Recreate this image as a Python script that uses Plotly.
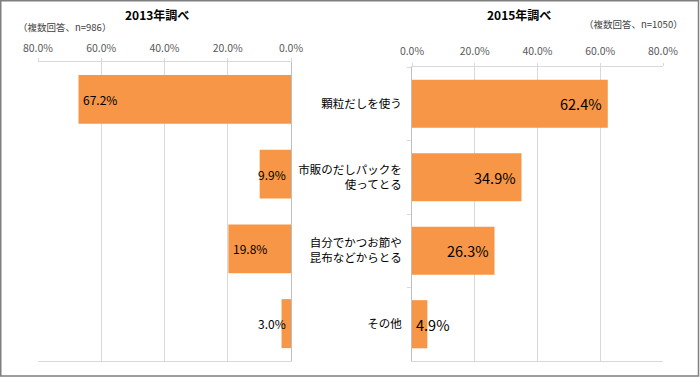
import plotly.graph_objects as go

categories = ["顆粒だしを使う", "市販のだしパックを<br>使ってとる", "自分でかつお節や<br>昆布などからとる", "その他"]
values_2013 = [67.2, 9.9, 19.8, 3.0]
values_2015 = [62.4, 34.9, 26.3, 4.9]
tick_vals = [0, 20, 40, 60, 80]
tick_text = ["0.0%", "20.0%", "40.0%", "60.0%", "80.0%"]
title_2013 = "2013年調べ"
title_2015 = "2015年調べ"
note_2013 = "（複数回答、n=986）"
note_2015 = "（複数回答、n=1050）"

W, H = 700, 377
FONT = "Noto Sans CJK JP"
BAR = "#F79646"
GRID = "#D9D9D9"
AXIS = "#BFBFBF"
TXT = "#595959"

def px(x):
    return x / W

def py(y):
    return 1 - y / H

fig = go.Figure()
fig.add_trace(go.Bar(y=categories, x=values_2013, orientation="h", marker_color=BAR,
                     marker_line_width=0, xaxis="x", yaxis="y", hoverinfo="x+y"))
fig.add_trace(go.Bar(y=categories, x=values_2015, orientation="h", marker_color=BAR,
                     marker_line_width=0, xaxis="x2", yaxis="y2", hoverinfo="x+y"))

common_x = dict(tickvals=tick_vals, ticktext=tick_text, side="top", showgrid=True,
                gridcolor=GRID, gridwidth=1, showline=True, linecolor=GRID, mirror=True,
                ticks="outside", ticklen=3, tickcolor=GRID, zeroline=False, automargin=False,
                tickfont=dict(family=FONT, size=10.5, color=TXT), fixedrange=True)

fig.update_layout(
    width=W, height=H, margin=dict(l=0, r=0, t=0, b=0, pad=0, autoexpand=False),
    autosize=False,
    paper_bgcolor="white", plot_bgcolor="white", showlegend=False,
    bargap=0.345, font=dict(family=FONT, color="#000000"),
    xaxis=dict(domain=[px(38), px(291)], range=[80, 0], anchor="y", ticklabelstandoff=2, **common_x),
    yaxis=dict(domain=[py(361), py(62)], type="category", autorange="reversed", anchor="x",
               side="right", showticklabels=False, showline=True, linecolor=AXIS,
               showgrid=False, ticks="", zeroline=False, fixedrange=True, automargin=False),
    xaxis2=dict(domain=[px(412), px(663)], range=[0, 80], anchor="y2", ticklabelstandoff=4, **common_x),
    yaxis2=dict(domain=[py(361), py(67)], type="category", autorange="reversed", anchor="x2",
                side="left", showline=True, linecolor=AXIS, showgrid=False,
                ticks="outside", tickson="boundaries", ticklen=4, tickcolor=GRID,
                ticklabelstandoff=7,
                tickfont=dict(family=FONT, size=11.5, color="#000000"), zeroline=False,
                fixedrange=True, automargin=False),
)

ann = []
ann.append(dict(text="<b>" + title_2013 + "</b>", x=px(157), y=py(14), xref="paper", yref="paper",
                xanchor="center", yanchor="middle",
                showarrow=False, font=dict(size=12, color="#000000")))
ann.append(dict(text="<b>" + title_2015 + "</b>", x=px(519), y=py(15), xref="paper", yref="paper",
                xanchor="center", yanchor="middle",
                showarrow=False, font=dict(size=12, color="#000000")))
ann.append(dict(text=note_2013, x=px(16), y=py(27), xref="paper", yref="paper", xanchor="left",
                yanchor="middle", showarrow=False, font=dict(size=9.5, color="#404040")))
ann.append(dict(text=note_2015, x=px(582), y=py(24), xref="paper", yref="paper", xanchor="left",
                yanchor="middle", showarrow=False, font=dict(size=9.5, color="#404040")))

for c, v in zip(categories, values_2013):
    if v >= 12:
        ann.append(dict(text=f"{v:.1f}%", x=v, y=c, xref="x", yref="y", xanchor="left", xshift=3,
                        yanchor="middle", showarrow=False, font=dict(size=12, color="#000000")))
    else:
        ann.append(dict(text=f"{v:.1f}%", x=0, y=c, xref="x", yref="y", xanchor="right", xshift=-3,
                        yanchor="middle", showarrow=False, font=dict(size=12, color="#000000")))
for c, v in zip(categories, values_2015):
    if v >= 15:
        ann.append(dict(text=f"{v:.1f}%", x=v, y=c, xref="x2", yref="y2", xanchor="right", xshift=-4,
                        yanchor="middle", showarrow=False, font=dict(size=14.5, color="#000000")))
    else:
        ann.append(dict(text=f"{v:.1f}%", x=0, y=c, xref="x2", yref="y2", xanchor="left", xshift=2,
                        yanchor="middle", showarrow=False, font=dict(size=14.5, color="#000000")))

fig.update_layout(annotations=ann)

fig.add_shape(type="rect", xref="paper", yref="paper", x0=px(0.75), x1=px(698.5), y0=py(376), y1=py(0.75),
              line=dict(color="#7F7F7F", width=1.5), fillcolor="rgba(0,0,0,0)", layer="above")

fig.write_html("out.html", config={"displayModeBar": False},
               post_script="document.body.style.margin='0';document.body.style.overflow='hidden';")
